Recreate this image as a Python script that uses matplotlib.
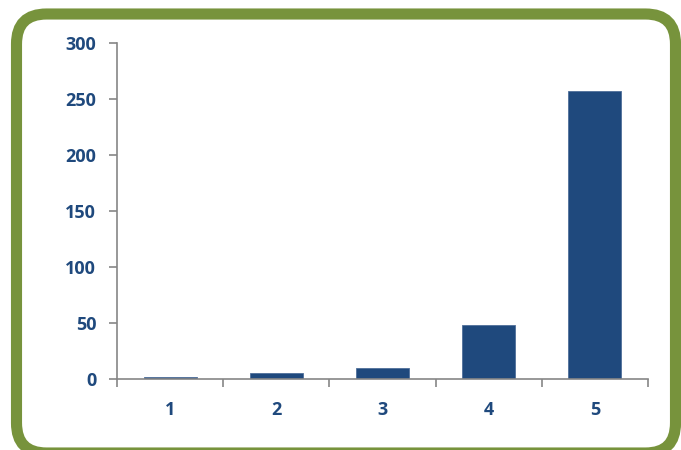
import matplotlib
matplotlib.use("Agg")
from matplotlib import pyplot as plt
from matplotlib.patches import FancyBboxPatch
import numpy as np

categories = ["1", "2", "3", "4", "5"]
values = [1.8, 5.5, 10, 48, 257]
y_ticks = [0, 50, 100, 150, 200, 250, 300]

blue = "#1F497D"
green = "#77933C"
gray = "#868686"


def main():
    fig = plt.figure(figsize=(6.81, 4.5), dpi=100)

    # background axes in pixel units for the rounded green frame
    bg = fig.add_axes([0, 0, 1, 1], zorder=-1)
    bg.set_xlim(0, 681)
    bg.set_ylim(450, 0)
    bg.axis("off")
    frame = FancyBboxPatch((16.5, 14), 659, 439,
                           boxstyle="round,pad=0,rounding_size=30",
                           facecolor="white", edgecolor=green, linewidth=8)
    bg.add_patch(frame)

    ax = fig.add_axes([117 / 681, 71 / 450, 531 / 681, 336 / 450])
    ax.set_facecolor("none")
    x = np.arange(len(categories))
    ax.bar(x, values, width=0.5, color=blue, edgecolor="#4F6F9A", linewidth=0.6)

    ax.set_xlim(-0.5, len(categories) - 0.5)
    ax.set_ylim(0, 300)
    ax.set_yticks(y_ticks)

    ax.set_xticks(np.arange(len(categories) + 1) - 0.5)
    ax.set_xticklabels([])
    ax.set_xticks(x, minor=True)
    ax.set_xticklabels(categories, minor=True)
    ax.tick_params(axis="x", which="minor", length=0, pad=16)
    ax.tick_params(axis="x", which="major", length=6, width=1.2, color=gray, direction="out")
    ax.tick_params(axis="y", length=6, width=1.2, color=gray, direction="out", pad=9)

    for lab in ax.get_yticklabels() + ax.get_xticklabels(minor=True):
        lab.set_fontfamily("Open Sans")
        lab.set_fontweight("bold")
        lab.set_fontsize(13)
        lab.set_color(blue)

    for s in ["top", "right"]:
        ax.spines[s].set_visible(False)
    for s in ["left", "bottom"]:
        ax.spines[s].set_color(gray)
        ax.spines[s].set_linewidth(1.2)

    fig.savefig("out.png", dpi=100)


if __name__ == '__main__':
    main()
